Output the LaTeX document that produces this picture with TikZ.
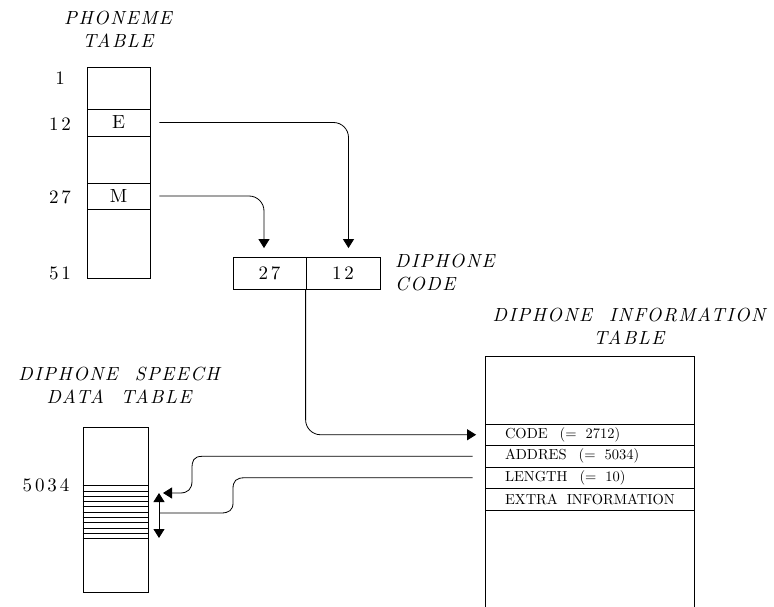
\documentclass[tikz,border=0pt]{standalone}
\usepackage{fontspec}
\setmainfont{lmroman10-regular.otf}[ItalicFont=lmroman10-italic.otf, BoldFont=lmroman10-bold.otf]
\usetikzlibrary{arrows.meta}
\tikzset{
  frame/.style={draw, line width=0.8pt, inner sep=0pt},
  cell/.style={draw, line width=0.8pt, inner sep=0pt, font=\numfont},
  inforow/.style={draw, line width=0.8pt, minimum height=21.5, text width=209, inner xsep=0, inner ysep=0, align=left, font=\rowfont, execute at begin node={\hspace*{20pt}}},
  ttl/.style={font=\ttlfont, inner sep=0pt},
  lbl/.style={font=\numfont, inner sep=0pt},
  conn/.style={line width=0.8pt},
  arr/.style={line width=0.8pt, -{Triangle[width=11pt,length=9pt]}},
  darr/.style={line width=0.8pt, {Triangle[width=11pt,length=9pt]}-{Triangle[width=11pt,length=9pt]}},
}
\newcommand{\numfont}{\fontsize{19}{22}\selectfont\addfontfeatures{LetterSpace=15}}
\newcommand{\rowfont}{\fontsize{14.5}{16}\selectfont}
\newcommand{\ttlfont}{\fontsize{19}{23}\selectfont\itshape\addfontfeatures{LetterSpace=8}}
\newcommand{\wsp}{\hspace{17pt}}
\begin{document}
\begin{tikzpicture}[x=1pt,y=-1pt]
\useasboundingbox (0,0) rectangle (774,607);

% ---- phoneme table
\node[ttl, align=center] (ptitle) at (118,29.5) {PHONEME\\TABLE};
\node[frame, minimum width=63, minimum height=211] (ptab) at (118.5,172.5) {};
\node[cell, minimum width=63, minimum height=27] (rowE) at (118.5,122.5) {E};
\node[cell, minimum width=63, minimum height=26] (rowM) at (118.5,196) {M};
\node[lbl] (n1) at (60,78) {1};
\node[lbl] (n12) at (60,124) {12};
\node[lbl] (n27) at (60,197) {27};
\node[lbl] (n51) at (60,273) {51};

% ---- diphone code
\node[cell, minimum width=73, minimum height=32] (dcL) at (269.5,273.5) {27};
\node[cell, minimum width=74, minimum height=32] (dcR) at (343,273.5) {12};
\node[ttl, align=left, anchor=west] (dctitle) at (395,273) {DIPHONE\\CODE};

% ---- diphone information table
\node[ttl, align=center] (ititle) at (629,326) {DIPHONE\wsp INFORMATION\\TABLE};
\coordinate (itl) at (485,356);
\coordinate (itr) at (694,356);
\coordinate (itbl) at (485,607);
\coordinate (itbr) at (694,607);
\draw[conn] (itbl) -- (itl) -- (itr) -- (itbr);
\node[inforow] (code) at (589.5,434.75) {CODE\hspace{12pt}(=\hspace{9pt}2712)};
\node[inforow] (addr) at (589.5,456.25) {ADDRES\hspace{12pt}(=\hspace{9pt}5034)};
\node[inforow] (len) at (589.5,477.75) {LENGTH\hspace{12pt}(=\hspace{9pt}10)};
\node[inforow] (extra) at (589.5,499.25) {EXTRA\hspace{9pt}INFORMATION};

% ---- diphone speech data table
\node[ttl, align=center] (stitle) at (119,385) {DIPHONE\wsp SPEECH\\DATA\wsp TABLE};
\node[frame, minimum width=65, minimum height=165] (st) at (115.5,509.5) {};
\node[lbl] (n5034) at (46,485) {5034};
\foreach \k in {0,...,10} {
  \draw[conn] ([yshift={-(59+5.3*\k)*1pt}]st.north west) -- ([yshift={-(59+5.3*\k)*1pt}]st.north east);
}
\coordinate (segTop) at (159,493);
\coordinate (segBot) at (159,538);
\coordinate (addrTip) at (163,493);
\coordinate (lenEnd) at (159,513);
\draw[darr] (segTop) -- (segBot);

% ---- connectors
\draw[arr, rounded corners=15, shorten <=9, shorten >=9] (rowE.east) -| ([xshift=5.5]dcR.north);
\draw[arr, rounded corners=15, shorten <=9, shorten >=9] (rowM.east) -| ([xshift=-5.5]dcL.north);
\draw[arr, rounded corners=15, shorten >=8.5] (dcR.south west) |- (code.west);
\draw[arr, shorten <=12] (addr.west) -- (203,456.25) .. controls (193,456.25) and (192,461) .. (192,469) -- (192,481) .. controls (192,489) and (188,493) .. (180,493) -- (addrTip);
\draw[conn, shorten <=12] (len.west) -- (245,477.75) .. controls (236,477.75) and (233,481) .. (233,489) -- (233,503) .. controls (233,510) and (229,513) .. (221,513) -- (lenEnd);
\end{tikzpicture}
\end{document}
